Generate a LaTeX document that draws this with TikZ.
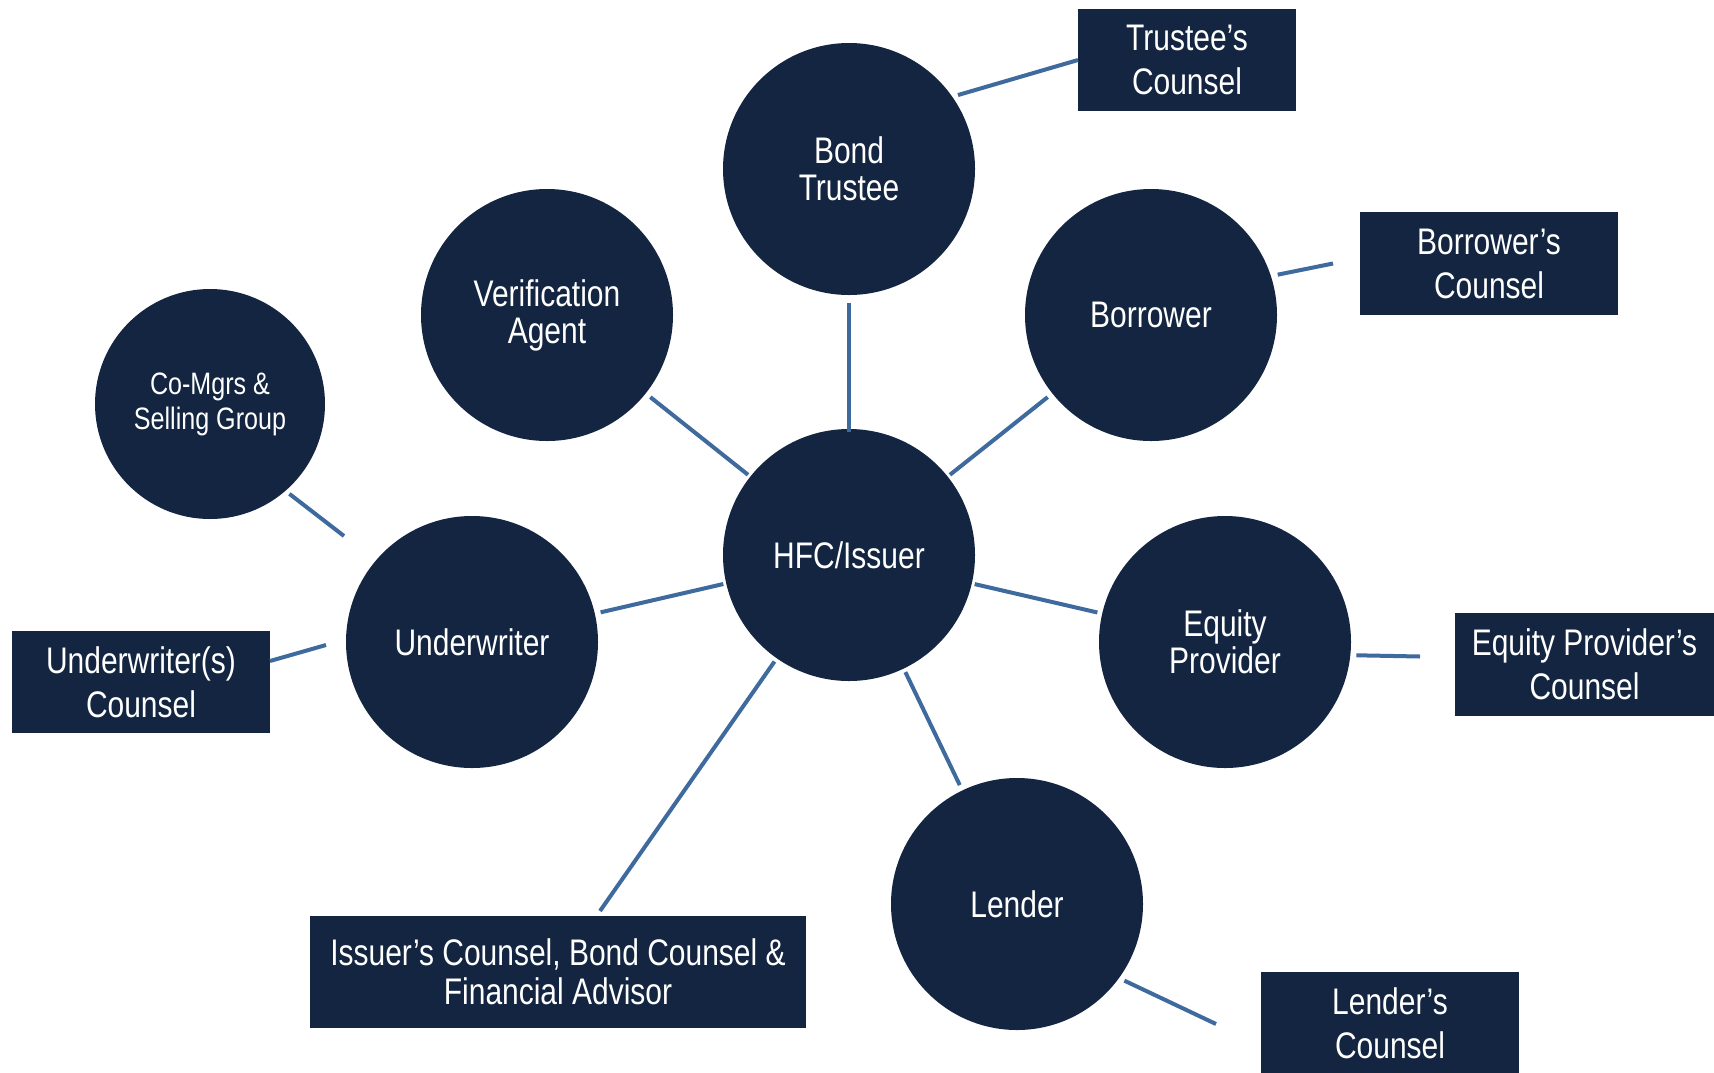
\documentclass[tikz,border=0pt]{standalone}
\usepackage{fontspec}
\setmainfont[FakeStretch=0.81]{Liberation Sans}
\usetikzlibrary{calc}
\definecolor{navy}{HTML}{132540}
\definecolor{linkblue}{HTML}{3E6A9E}
\begin{document}
\begin{tikzpicture}[x=1pt,y=-1pt,
  circ/.style={circle, fill=navy, text=white, minimum size=252pt, inner sep=0pt, outer sep=0pt, align=center, font=\fontsize{37}{37}\selectfont},
  cbox/.style={rectangle, fill=navy, text=white, inner sep=0pt, outer sep=0pt, align=center, font=\fontsize{37}{44}\selectfont},
  link/.style={draw=linkblue, line width=4pt}]
\useasboundingbox[fill=white] (0,0) rectangle (1714,1072);

% circles
\node[circ] (hfc) at (849,555) {HFC/Issuer};
\node[circ] (bt) at (849,169) {Bond\\Trustee};
\node[circ] (va) at (547,315) {Verification\\Agent};
\node[circ] (bor) at (1151,315) {Borrower};
\node[circ, minimum size=230pt, font=\fontsize{31}{35}\selectfont] (cm) at (210,404) {Co-Mgrs \&\\Selling Group};
\node[circ] (uw) at (472,642) {Underwriter};
\node[circ] (eq) at (1225,642) {Equity\\Provider};
\node[circ] (len) at (1017,904) {Lender};

% boxes
\node[cbox, minimum width=218pt, minimum height=102pt] (tc) at (1187,60) {Trustee’s\\Counsel};
\node[cbox, minimum width=258pt, minimum height=103pt] (bc) at (1489,263.5) {Borrower’s\\Counsel};
\node[cbox, minimum width=259pt, minimum height=103pt] (epc) at (1584.5,664.5) {Equity Provider’s\\Counsel};
\node[cbox, minimum width=258pt, minimum height=102pt] (lc) at (1390,1023) {Lender’s\\Counsel};
\node[cbox, minimum width=496pt, minimum height=112pt, font=\fontsize{37}{39}\selectfont] (ic) at (558,972) {Issuer’s Counsel, Bond Counsel \&\\Financial Advisor};
\node[cbox, minimum width=258pt, minimum height=102pt] (uwc) at (141,682) {Underwriter(s)\\Counsel};

% free connector ends
\coordinate (icT) at ($(ic.north)+(42,-5)$);
\coordinate (bcW) at ($(bc.west)+(-27,0)$);
\coordinate (eqE) at ($(epc.west)+(-35,-8)$);
\coordinate (lcW) at ($(lc.west)+(-45,1)$);
\coordinate (uwNW) at ($(uw)+(-128,-106)$);
\coordinate (uwW) at ($(uw)+(-146,3)$);
\coordinate (uwcE) at ($(uwc.east)+(0,-21)$);

% connectors
\draw[link, shorten <=-3pt, shorten >=8pt] (hfc) -- (bt);
\draw[link, shorten <=3pt, shorten >=6pt] (hfc) -- (va);
\draw[link, shorten <=3pt, shorten >=6pt] (hfc) -- (bor);
\draw[link, shorten <=3pt, shorten >=6pt] (hfc) -- (uw);
\draw[link, shorten <=3pt, shorten >=5pt] (hfc) -- (eq);
\draw[link, shorten <=4pt, shorten >=6pt] (hfc) -- (len);
\draw[link, shorten <=4pt] (hfc) -- (icT);
\draw[link, shorten <=6pt] (bt.35) -- (tc.west);
\draw[link, shorten <=7pt] (bor.18) -- (bcW);
\draw[link, shorten <=6pt] (eq.-6.5) -- (eqE);
\draw[link, shorten <=6pt] (len.-36.7) -- (lcW);
\draw[link, shorten >=5pt] (uwNW) -- (cm.-49);
\draw[link] (uwW) -- (uwcE);
\end{tikzpicture}
\end{document}
